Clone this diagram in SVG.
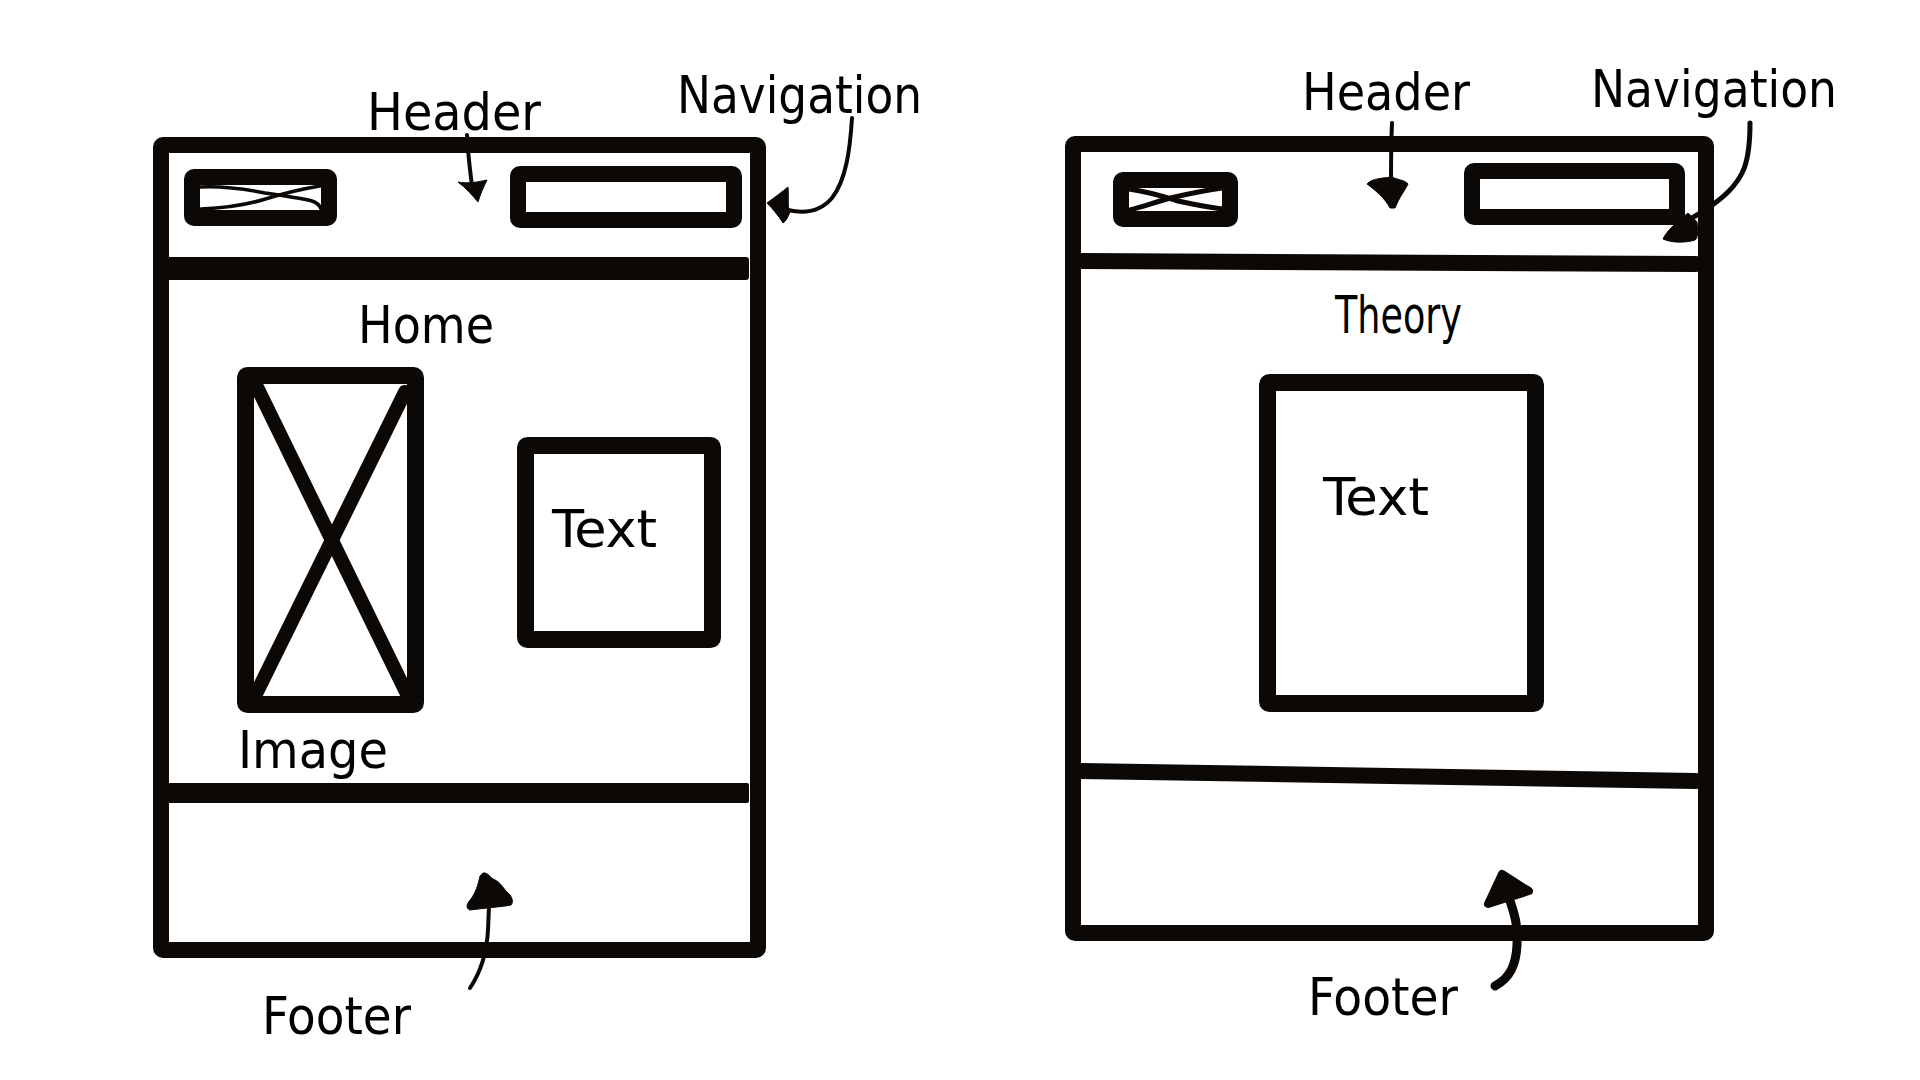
<svg xmlns="http://www.w3.org/2000/svg" width="1920" height="1080" viewBox="0 0 1920 1080">
<style>
.box{fill:none;stroke:#0b0805;stroke-linejoin:round}
.bar{fill:#0b0805}
.thin{fill:none;stroke:#0b0805;stroke-linecap:round;stroke-linejoin:round}
.head{fill:#0b0805;stroke:#0b0805;stroke-linejoin:round}
.lbl{font-family:"DejaVu Sans Condensed","DejaVu Sans",sans-serif;font-stretch:condensed;font-size:52px;fill:#000}
</style>
<rect width="1920" height="1080" fill="#fff"/>

<g id="home-page">
  <g id="home-frame">
    <rect class="box" x="161" y="145" width="597" height="805" rx="2" stroke-width="16"/>
    <rect class="bar" x="165" y="257" width="584" height="23" rx="3"/>
    <rect class="bar" x="165" y="783" width="584" height="20" rx="2"/>
  </g>
  <g id="home-logo">
    <rect class="box" x="192" y="177" width="137" height="41" rx="2" stroke-width="16"/>
    <path class="thin" stroke-width="3.5" d="M200,187 C220,186 240,188 265,193 C285,196 300,198 312,201 C318,203 320,206 321,209"/>
    <path class="thin" stroke-width="3.5" d="M201,209 C225,208 245,205 262,200 C278,195 295,190 320,186"/>
  </g>
  <g id="home-nav">
    <rect class="box" x="518" y="174" width="216" height="46" rx="2" stroke-width="16"/>
  </g>
  <g id="home-image">
    <rect class="box" x="245.5" y="375.5" width="170" height="329" rx="2" stroke-width="17"/>
    <line class="thin" stroke-width="14" stroke-linecap="butt" x1="257" y1="387" x2="407" y2="694"/>
    <line class="thin" stroke-width="14" x1="405" y1="392" x2="256" y2="694"/>
  </g>
  <g id="home-text">
    <rect class="box" x="525.5" y="445.5" width="187" height="194" rx="2" stroke-width="17"/>
    <text class="lbl" x="552" y="547" textLength="105" lengthAdjust="spacingAndGlyphs">Text</text>
  </g>
  <text class="lbl" x="367" y="130" textLength="174" lengthAdjust="spacingAndGlyphs">Header</text>
  <text class="lbl" x="677" y="113" textLength="245" lengthAdjust="spacingAndGlyphs">Navigation</text>
  <text class="lbl" x="358" y="343" textLength="136" lengthAdjust="spacingAndGlyphs">Home</text>
  <text class="lbl" x="238" y="768" textLength="150" lengthAdjust="spacingAndGlyphs">Image</text>
  <text class="lbl" x="262" y="1034" textLength="149" lengthAdjust="spacingAndGlyphs">Footer</text>
</g>

<g id="theory-page">
  <g id="theory-frame">
    <rect class="box" x="1073" y="144" width="633" height="789" rx="2" stroke-width="16"/>
    <line class="thin" stroke-width="16" x1="1080" y1="261" x2="1696" y2="264"/>
    <line class="thin" stroke-width="16" x1="1080" y1="771" x2="1696" y2="781"/>
  </g>
  <g id="theory-logo">
    <rect class="box" x="1121" y="180" width="109" height="39" rx="2" stroke-width="16"/>
    <path class="thin" stroke-width="5" d="M1129,189 C1150,192 1165,197 1178,201 C1195,205 1210,207 1222,209"/>
    <path class="thin" stroke-width="5" d="M1130,210 C1148,205 1162,200 1175,197 C1192,193 1208,190 1222,188"/>
  </g>
  <g id="theory-nav">
    <rect class="box" x="1472" y="171" width="205" height="46" rx="2" stroke-width="16"/>
  </g>
  <g id="theory-text">
    <rect class="box" x="1267.5" y="382.5" width="268" height="321" rx="2" stroke-width="17"/>
    <text class="lbl" x="1323" y="515" textLength="106" lengthAdjust="spacingAndGlyphs">Text</text>
  </g>
  <text class="lbl" x="1302" y="110" textLength="168" lengthAdjust="spacingAndGlyphs">Header</text>
  <text class="lbl" x="1591" y="107" textLength="246" lengthAdjust="spacingAndGlyphs">Navigation</text>
  <text class="lbl" x="1335" y="333" font-size="40" textLength="127" lengthAdjust="spacingAndGlyphs">Theory</text>
  <text class="lbl" x="1308" y="1015" textLength="150" lengthAdjust="spacingAndGlyphs">Footer</text>
</g>

<g id="connectors">
  <path class="thin" stroke-width="4" d="M467,135 C468,155 470,170 472,186"/>
  <path class="head" stroke-width="1" d="M458,182 C468,184 478,182 487,180 C483,188 480,195 478,202 C472,195 466,188 458,182 Z"/>

  <path class="thin" stroke-width="4" d="M852,118 C850,150 846,180 832,198 C820,212 805,214 788,210"/>
  <path class="head" stroke-width="1" d="M767,203 C775,197 782,192 788,187 C789,197 787,207 790,212 C788,217 786,221 783,223 C778,215 772,208 767,203 Z"/>

  <path class="thin" stroke-width="4" d="M470,988 C482,970 487,950 488,930 L489,906"/>
  <path class="head" stroke-width="1" d="M483,873 C488,872 490,878 495,880 C500,882 503,888 507,892 C512,896 514,902 511,905 C500,907 485,908 470,910 C465,908 467,903 471,899 C476,892 478,885 480,876 Z"/>

  <path class="thin" stroke-width="4" d="M1392,123 C1391,145 1391,165 1391,186"/>
  <path class="head" stroke-width="1" d="M1367,184 C1372,178 1385,178 1392,177 C1398,180 1405,180 1408,184 C1404,192 1400,196 1395,208 L1390,208 C1385,198 1375,190 1367,184 Z"/>

  <path class="thin" stroke-width="5" d="M1750,123 C1750,165 1742,178 1728,192 C1718,202 1706,210 1692,218"/>
  <path class="head" stroke-width="1" d="M1688,213 L1697,222 C1698,232 1698,238 1695,240 C1685,243 1672,243 1663,239 C1667,230 1677,222 1688,213 Z"/>

  <path class="thin" stroke-width="9" d="M1495,986 C1510,978 1516,965 1517,945 C1518,925 1515,915 1508,895"/>
  <path class="head" stroke-width="8" d="M1502,874 L1488,904 L1529,891 Z"/>
</g>
</svg>
